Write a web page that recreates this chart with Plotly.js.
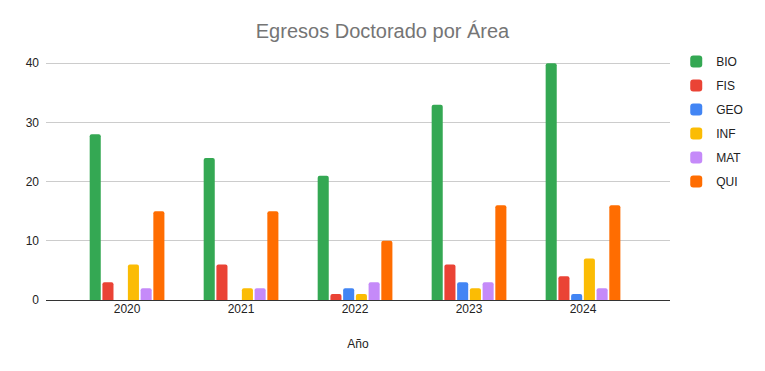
<!DOCTYPE html>
<html>
<head>
<meta charset="utf-8">
<script src="https://cdn.plot.ly/plotly-3.0.1.min.js"></script>
<style>html,body{margin:0;padding:0;background:#fff;}#chart{width:765px;height:371px;}</style>
</head>
<body>
<div id="chart"></div>
<script>
const years = ["2020", "2021", "2022", "2023", "2024"];
const BIO = [28, 24, 21, 33, 40];
const FIS = [3, 6, 1, 6, 4];
const GEO = [0, 0, 2, 3, 1];
const INF = [6, 2, 1, 2, 7];
const MAT = [2, 2, 3, 3, 2];
const QUI = [15, 15, 10, 16, 16];
const seriesNames = ["BIO", "FIS", "GEO", "INF", "MAT", "QUI"];
const seriesValues = [BIO, FIS, GEO, INF, MAT, QUI];
const colors = ["#34a853", "#ea4335", "#4285f4", "#fbbc04", "#c58af9", "#ff6d01"];

const FONT = "'Liberation Sans', Arial, sans-serif";

const traces = seriesNames.map((n, i) => ({
  type: "bar",
  name: n,
  x: years,
  y: seriesValues[i],
  legendgroup: n,
  marker: {color: colors[i], cornerradius: 2},
  hoverinfo: "x+y+name"
}));

const layout = {
  width: 765, height: 371,
  margin: {l: 46, r: 95, t: 62, b: 71},
  paper_bgcolor: "#fff", plot_bgcolor: "#fff",
  font: {family: FONT, size: 12, color: "#222"},
  title: {text: "Egresos Doctorado por Área", x: 0.5, xanchor: "center", y: 0.917, yanchor: "middle",
          font: {family: FONT, size: 20, color: "#757575"}},
  barmode: "group",
  bargap: 0.33,
  bargroupgap: 0.13,
  xaxis: {
    type: "category",
    range: [-0.711, 4.763],
    showgrid: false, zeroline: false, showline: false,
    ticks: "", tickfont: {family: FONT, size: 12, color: "#222"},
    title: {text: "Año", font: {family: FONT, size: 12, color: "#222"}, standoff: 24}
  },
  yaxis: {
    range: [0, 40.2],
    tickvals: [0, 10, 20, 30, 40],
    showgrid: true, gridcolor: "#cccccc", gridwidth: 1,
    zeroline: true, zerolinecolor: "#333", zerolinewidth: 1,
    showline: false, ticks: "", ticklen: 0,
    tickfont: {family: FONT, size: 12, color: "#222"},
    ticklabelstandoff: 6
  },
  legend: {
    x: 1.01, xanchor: "left", y: 1.063, yanchor: "top",
    traceorder: "grouped", tracegroupgap: 5, itemwidth: 30,
    font: {family: FONT, size: 12, color: "#222"},
    bgcolor: "rgba(0,0,0,0)"
  },
  showlegend: true
};

Plotly.newPlot("chart", traces, layout, {displayModeBar: false, staticPlot: true});
</script>
</body>
</html>
